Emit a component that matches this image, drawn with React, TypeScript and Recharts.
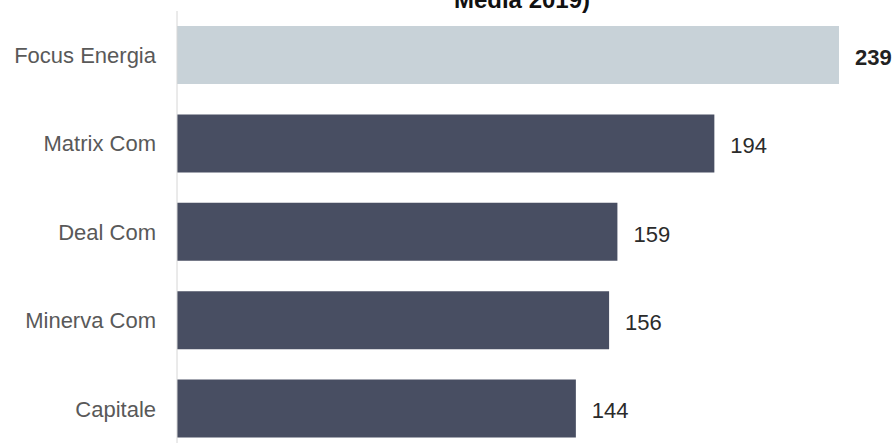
import React from "react";
import { BarChart, Bar, XAxis, YAxis, Cell, LabelList } from "recharts";

const categories = ["Focus Energia", "Matrix Com", "Deal Com", "Minerva Com", "Capitale"];
const values = [239, 194, 159, 156, 144];
const highlight = [true, false, false, false, false];
const titleText = "Media 2019)";

const data = categories.map((name, i) => ({ name, value: values[i], hl: highlight[i] }));

const FONT = "'Liberation Sans', Arial, Helvetica, sans-serif";
const DARK = "#484e62";
const LIGHT = "#c8d2d8";

const renderLabel = (props: any) => {
  const { x, y, width, height, value, index } = props;
  const bold = highlight[index];
  return (
    <text
      x={Number(x) + Number(width) + 16}
      y={Number(y) + Number(height) / 2 + 2}
      dy="0.355em"
      fill={bold ? "#222222" : "#2b2b2b"}
      fontSize={22}
      fontWeight={bold ? 700 : 400}
      fontFamily={FONT}
      textAnchor="start"
    >
      {value}
    </text>
  );
};

export default function App() {
  return (
    <div style={{ position: "absolute", left: 0, top: 0, width: 893, height: 443, overflow: "hidden", background: "#fff" }}>
      <svg width={893} height={20} style={{ position: "absolute", left: 0, top: 0 }}>
        <text x={522} y={8} textAnchor="middle" fontFamily={FONT} fontWeight={700} fontSize={24} fill="#111">
          {titleText}
        </text>
      </svg>
      <BarChart
        width={893}
        height={460}
        data={data}
        layout="vertical"
        margin={{ top: 11, right: 54, left: 0, bottom: 7 }}
        style={{ fontFamily: FONT }}
      >
        <XAxis type="number" domain={[0, 239]} hide />
        <YAxis
          type="category"
          dataKey="name"
          width={177}
          axisLine={{ stroke: "#d6d6d6" }}
          tickLine={false}
          tickSize={0}
          tickMargin={21}
          tick={{ fill: "#595959", fontSize: 22, fontFamily: FONT }}
        />
        <Bar dataKey="value" barSize={58} isAnimationActive={false}>
          {data.map((d, i) => (
            <Cell key={i} fill={d.hl ? LIGHT : DARK} />
          ))}
          <LabelList dataKey="value" content={renderLabel} />
        </Bar>
      </BarChart>
    </div>
  );
}
